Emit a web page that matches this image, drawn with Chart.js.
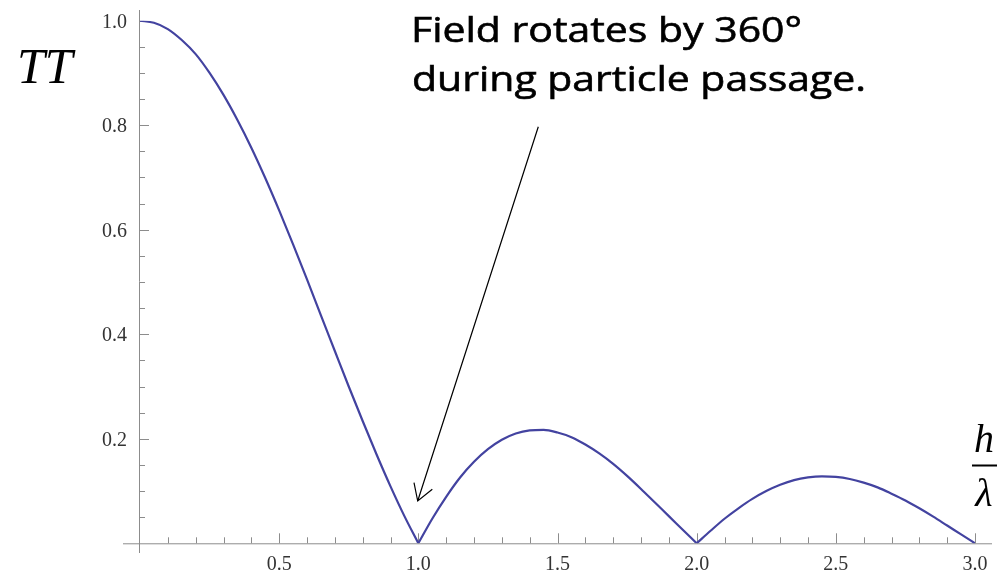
<!DOCTYPE html>
<html>
<head>
<meta charset="utf-8">
<script src="https://cdn.jsdelivr.net/npm/chart.js@4/dist/chart.umd.min.js"></script>
<style>
html,body{margin:0;padding:0;background:#fff;}
#wrap{width:1005px;height:574px;position:relative;}
</style>
</head>
<body>
<div id="wrap"><canvas id="c" width="1005" height="574"></canvas></div>
<script>
// h/lambda values
const hOverLambda = [0,0.05,0.1,0.15,0.2,0.25,0.3,0.35,0.4,0.45,0.5,0.55,0.6,0.65,0.7,0.75,0.8,0.85,0.9,0.95,
  1.0,1.05,1.1,1.15,1.2,1.25,1.3,1.35,1.4,1.45,1.5,1.55,1.6,1.65,1.7,1.75,1.8,1.85,1.9,1.95,
  2.0,2.05,2.1,2.15,2.2,2.25,2.3,2.35,2.4,2.45,2.5,2.55,2.6,2.65,2.7,2.75,2.8,2.85,2.9,2.95,3.0];
// transit time factor TT
const ttValues = [1.000,0.996,0.984,0.963,0.936,0.900,0.858,0.810,0.757,0.699,0.637,0.572,0.505,0.436,0.368,0.300,0.234,0.170,0.109,0.052,
  0.000,0.047,0.089,0.126,0.156,0.180,0.198,0.210,0.216,0.217,0.212,0.203,0.189,0.172,0.152,0.129,0.104,0.078,0.052,0.026,
  0.000,0.024,0.047,0.067,0.085,0.100,0.112,0.121,0.126,0.128,0.127,0.123,0.116,0.107,0.095,0.082,0.067,0.051,0.034,0.017,0.000];
// lobe boundaries (h/lambda where TT = 0)
const lobeEdges = [0, 1.0, 2.0, 3.0];
const xTickValues = [0.5,1.0,1.5,2.0,2.5,3.0];
const xTickLabels = ['0.5','1.0','1.5','2.0','2.5','3.0'];
const yTickValues = [0.2,0.4,0.6,0.8,1.0];
const yTickLabels = ['0.2','0.4','0.6','0.8','1.0'];
const annotationLines = ['Field rotates by 360°','during particle passage.'];
const yAxisTitle = 'TT';

const axesPlugin = {
  id: 'mmaAxes',
  beforeDatasetsDraw(chart) {
    const ctx = chart.ctx;
    const xs = chart.scales.x, ys = chart.scales.y;
    const x0 = xs.getPixelForValue(0), y0 = ys.getPixelForValue(0);
    ctx.save();
    ctx.strokeStyle = '#8c8c8c';
    ctx.lineWidth = 1;
    ctx.beginPath();
    ctx.moveTo(123, y0 + 0.5); ctx.lineTo(992, y0 + 0.5);
    ctx.moveTo(x0 - 0.5, 10); ctx.lineTo(x0 - 0.5, 553);
    ctx.stroke();
    ctx.beginPath();
    for (let i = 1; i <= 30; i++) {
      const v = i / 10;
      const px = Math.round(xs.getPixelForValue(v)) + 0.5;
      const major = (i % 5 === 0);
      ctx.moveTo(px, y0); ctx.lineTo(px, y0 - (major ? 10 : 6));
    }
    for (let i = 1; i <= 20; i++) {
      const v = i / 20;
      const py = Math.round(ys.getPixelForValue(v)) + 0.5;
      const major = (i % 4 === 0);
      ctx.moveTo(x0, py); ctx.lineTo(x0 + (major ? 9 : 5), py);
    }
    ctx.stroke();
    ctx.fillStyle = '#333';
    ctx.font = '20px "Liberation Serif", "DejaVu Serif", serif';
    ctx.textAlign = 'center';
    ctx.textBaseline = 'alphabetic';
    xTickValues.forEach((v, i) => {
      ctx.fillText(xTickLabels[i], xs.getPixelForValue(v), 570);
    });
    ctx.textAlign = 'right';
    yTickValues.forEach((v, i) => {
      ctx.fillText(yTickLabels[i], 127, ys.getPixelForValue(v) + 7);
    });
    ctx.restore();
  },
  afterDatasetsDraw(chart) {
    const ctx = chart.ctx;
    ctx.save();
    ctx.fillStyle = '#000';
    ctx.font = 'italic 50px "Liberation Serif", serif';
    ctx.textAlign = 'left';
    ctx.fillText(yAxisTitle, 17, 83);
    ctx.textAlign = 'center';
    ctx.font = 'italic 40px "Liberation Serif", serif';
    ctx.fillText('h', 984, 452);
    ctx.fillText('λ', 984, 506);
    ctx.fillRect(972, 464.5, 25, 2);
    ctx.font = '34px "Open Sans", sans-serif';
    ctx.textAlign = 'left';
    ctx.strokeStyle = '#000';
    ctx.lineWidth = 0.6;
    const w2 = ctx.measureText(annotationLines[1]).width;
    const sx = 454 / w2;
    [[411, 42], [412, 91]].forEach((p, i) => {
      ctx.save(); ctx.translate(p[0], p[1]); ctx.scale(sx, 1);
      ctx.fillText(annotationLines[i], 0, 0);
      ctx.strokeText(annotationLines[i], 0, 0);
      ctx.restore();
    });
    const sxp = 538.3, syp = 126.7, tx = 417.7, ty = 501;
    ctx.lineWidth = 1.2;
    ctx.beginPath();
    ctx.moveTo(sxp, syp); ctx.lineTo(tx, ty);
    ctx.moveTo(414, 482.7); ctx.lineTo(tx, ty); ctx.lineTo(432.3, 489.3);
    ctx.stroke();
    ctx.restore();
  }
};

const datasets = [];
for (let k = 0; k < lobeEdges.length - 1; k++) {
  const pts = [];
  hOverLambda.forEach((x, i) => {
    if (x >= lobeEdges[k] && x <= lobeEdges[k + 1]) pts.push({x: x, y: ttValues[i]});
  });
  datasets.push({
    data: pts,
    showLine: true,
    borderColor: '#4343a0',
    borderWidth: 2.2,
    pointRadius: 0,
    cubicInterpolationMode: 'monotone'
  });
}

new Chart(document.getElementById('c'), {
  type: 'scatter',
  data: { datasets: datasets },
  options: {
    responsive: false,
    animation: false,
    layout: { padding: { left: 140, right: 30, top: 20.7, bottom: 30.7 } },
    plugins: { legend: { display: false }, tooltip: { enabled: false } },
    scales: {
      x: { type: 'linear', min: 0, max: 3, display: false },
      y: { type: 'linear', min: 0, max: 1, display: false }
    }
  },
  plugins: [axesPlugin]
});
</script>
</body>
</html>
